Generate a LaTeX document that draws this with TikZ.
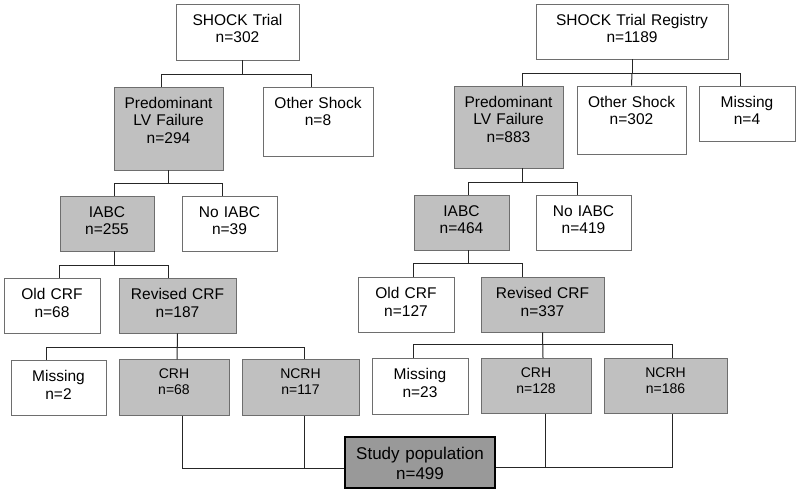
\documentclass[tikz,border=0pt]{standalone}
\usepackage{fontspec}
\setmainfont{Liberation Sans}
\definecolor{boxgrey}{RGB}{192,192,192}
\definecolor{studygrey}{RGB}{153,153,153}
\definecolor{boxline}{RGB}{110,110,110}
\tikzset{
	box/.style 2 args={draw=boxline, line width=0.9pt, inner sep=0pt, align=center,
		font=\fontsize{15.5}{17.5}\selectfont, text width=#1, text height=21.5, text depth=#2-21.5},
	shaded/.style={fill=boxgrey},
	smalltext/.style={font=\fontsize{14}{16}\selectfont, text height=19, text depth=36.5},
	link/.style={draw=black!85, line width=1pt}
}
\begin{document}
\begin{tikzpicture}[x=1pt,y=-1pt]
			\useasboundingbox (0,0) rectangle (800,494);
			% SHOCK Trial
			\node[box={123}{56}] (trialA) at (237.5,32) {SHOCK Trial\\n=302};
			\node[box={109}{83},shaded] (lvA) at (168.5,128.5) {Predominant\\LV Failure\\n=294};
			\node[box={110}{69}] (otherA) at (318,121.5) {Other Shock\\n=8};
			\node[box={94}{55},shaded] (iabcA) at (107,223.5) {IABC\\n=255};
			\node[box={95}{55}] (noiabcA) at (229.5,223.5) {No IABC\\n=39};
			\node[box={96}{55}] (oldA) at (52,305.5) {Old CRF\\n=68};
			\node[box={117}{55},shaded] (revA) at (177.5,305.5) {Revised CRF\\n=187};
			\node[box={95}{55}] (missA) at (58.5,387.5) {Missing\\n=2};
			\node[box={110}{55},shaded,smalltext] (crhA) at (174,387.5) {CRH\\n=68};
			\node[box={117}{55},shaded,smalltext] (ncrhA) at (300.5,387.5) {NCRH\\n=117};
			% SHOCK Trial Registry
			\node[box={192}{55}] (trialB) at (632,31.5) {SHOCK Trial Registry\\n=1189};
			\node[box={109}{82},shaded] (lvB) at (508.5,127) {Predominant\\LV Failure\\n=883};
			\node[box={109}{68}] (otherB) at (631.5,120) {Other Shock\\n=302};
			\node[box={96}{55}] (missB) at (747,113.5) {Missing\\n=4};
			\node[box={95}{55},shaded] (iabcB) at (461.5,222.5) {IABC\\n=464};
			\node[box={95}{55}] (noiabcB) at (583.5,222.5) {No IABC\\n=419};
			\node[box={96}{55}] (oldB) at (406,304.5) {Old CRF\\n=127};
			\node[box={123}{55},shaded] (revB) at (542.5,304.5) {Revised CRF\\n=337};
			\node[box={96}{56}] (missC) at (420,386) {Missing\\n=23};
			\node[box={110}{56},shaded,smalltext] (crhB) at (536,386) {CRH\\n=128};
			\node[box={123}{56},shaded,smalltext] (ncrhB) at (665.5,386) {NCRH\\n=186};
			% study population
			\node[draw=black, line width=2.6pt, fill=studygrey, inner sep=0pt, align=center,
				font=\fontsize{17}{20}\selectfont, text width=150, text height=22, text depth=29]
				(study) at (420,462.5) {Study population\\n=499};
			% left tree
			\draw[link] ([xshift=4.5pt]trialA.south) -- ++(0,14) coordinate (jA1);
			\draw[link] ([xshift=-7.5pt]lvA.north) |- (jA1) -| ([xshift=-7pt]otherA.north);
			\draw[link] (lvA.south) -- ++(0,13) coordinate (jA2);
			\draw[link] ([xshift=7pt]iabcA.north) |- (jA2) -| ([xshift=-7.5pt]noiabcA.north);
			\draw[link] ([xshift=7pt]iabcA.south) -- ++(0,14) coordinate (jA3);
			\draw[link] ([xshift=7pt]oldA.north) |- (jA3) -| ([xshift=-9.5pt]revA.north);
			\draw[link] (revA.south) -- ([xshift=3pt]crhA.north);
			\draw[link] ([xshift=-12.5pt]missA.north) |- ([xshift=3.5pt]ncrhA.north |- 0,347) -- ([xshift=3.5pt]ncrhA.north);
			\draw[link] ([xshift=8pt]crhA.south) |- ([yshift=-5.5pt]study.west);
			\draw[link] ([xshift=3.5pt]ncrhA.south) -- ([xshift=3.5pt]ncrhA.south |- 0,468);
			% right tree
			\draw[link] (trialB.south) -- ++(0,14) coordinate (jB1);
			\draw[link] ([xshift=13.5pt]lvB.north) |- (jB1) -| ([xshift=-7pt]missB.north);
			\draw[link] (jB1) -- (otherB.north);
			\draw[link] ([xshift=13.5pt]lvB.south) -- ++(0,14) coordinate (jB2);
			\draw[link] ([xshift=6.5pt]iabcB.north) |- (jB2) -| ([xshift=-6.5pt]noiabcB.north);
			\draw[link] ([xshift=6.5pt]iabcB.south) -- ++(0,13) coordinate (jB3);
			\draw[link] ([xshift=7pt]oldB.north) |- (jB3) -| ([xshift=-20.5pt]revB.north);
			\draw[link] (revB.south) -- ([xshift=7pt]crhB.north);
			\draw[link] ([xshift=-7pt]missC.north) |- ([xshift=6.5pt]ncrhB.north |- 0,344) -- ([xshift=6.5pt]ncrhB.north);
			\draw[link] ([xshift=9pt]crhB.south) -- ([xshift=9pt]crhB.south |- 0,467);
			\draw[link] ([xshift=6.5pt]ncrhB.south) |- ([yshift=-4.5pt]study.east);
		\end{tikzpicture}
\end{document}
